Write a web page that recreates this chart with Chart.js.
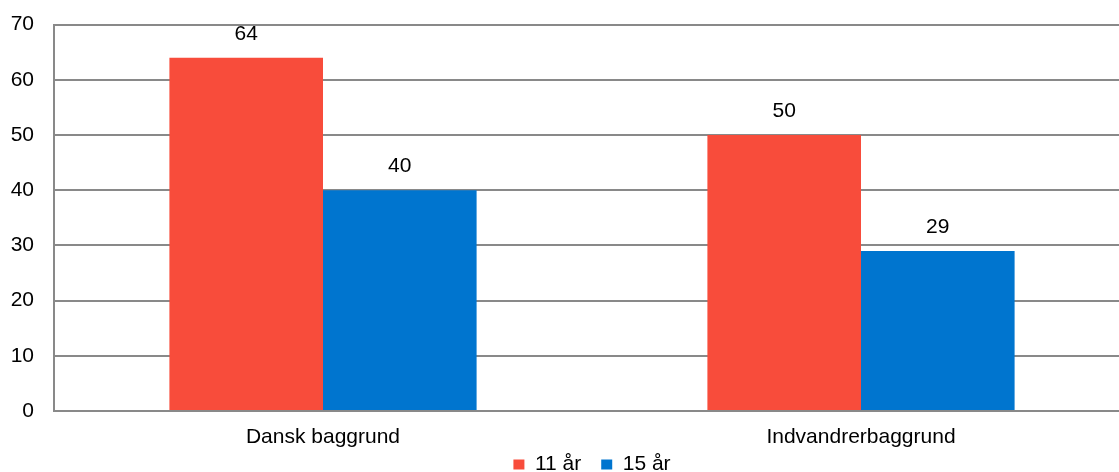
<!DOCTYPE html>
<html>
<head>
<meta charset="utf-8">
<script src="https://cdn.jsdelivr.net/npm/chart.js@4"></script>
<style>
html,body{margin:0;padding:0;background:#fff;overflow:hidden;}
#wrap{width:1130px;height:480px;position:absolute;left:0;top:-8px;}
</style>
</head>
<body>
<div id="wrap"><canvas id="c"></canvas></div>
<script>
const categories = ["Dansk baggrund", "Indvandrerbaggrund"];
const seriesNames = ["11 år", "15 år"];
const values11 = [64, 50];
const values15 = [40, 29];
const yTicks = [0, 10, 20, 30, 40, 50, 60, 70];

const FONT = "'Liberation Sans', Arial, sans-serif";
const FS = 21;

const labelPlugin = {
  id: 'barLabels',
  afterDatasetsDraw(chart) {
    const ctx = chart.ctx;
    ctx.save();
    ctx.font = FS + "px " + FONT;
    ctx.fillStyle = "#000";
    ctx.textAlign = "center";
    ctx.textBaseline = "middle";
    chart.data.datasets.forEach((ds, di) => {
      const meta = chart.getDatasetMeta(di);
      meta.data.forEach((bar, i) => {
        ctx.fillText(String(ds.data[i]), bar.x, bar.y - 24);
      });
    });
    ctx.restore();
  }
};

// centre the legend under the plot area and pull it up closer to the axis labels
const LEGEND_LIFT = 17;
const legendShift = {
  id: 'legendShift',
  afterLayout(chart) {
    const lg = chart.legend;
    if (!lg) return;
    const ca = chart.chartArea;
    const dx = (ca.left + ca.right) / 2 - (lg.left + lg.right) / 2;
    lg.left += dx; lg.right += dx;
    lg.top -= LEGEND_LIFT; lg.bottom -= LEGEND_LIFT;
    if (lg.legendHitBoxes) lg.legendHitBoxes.forEach(h => { h.left += dx; h.top -= LEGEND_LIFT; });
  }
};

new Chart(document.getElementById('c'), {
  type: 'bar',
  data: {
    labels: categories,
    datasets: [
      { label: seriesNames[0], data: values11, backgroundColor: '#F84C3B', borderWidth: 0 },
      { label: seriesNames[1], data: values15, backgroundColor: '#0075CF', borderWidth: 0 }
    ]
  },
  options: {
    responsive: true,
    maintainAspectRatio: false,
    animation: false,
    devicePixelRatio: 1,
    layout: { padding: { top: 0, right: 0, bottom: -30, left: 0 } },
    plugins: {
      legend: {
        position: 'bottom',
        labels: {
          font: { family: FONT, size: FS },
          color: '#000',
          boxWidth: 11,
          boxHeight: 10,
          padding: 20
        }
      },
      tooltip: { enabled: false }
    },
    datasets: {
      bar: { barPercentage: 1.0, categoryPercentage: 0.571 }
    },
    scales: {
      x: {
        afterFit(scale) { scale.height = 40; },
        grid: { display: false, drawTicks: false },
        border: { display: true, color: '#898989', width: 2 },
        ticks: { font: { family: FONT, size: FS }, color: '#000', padding: 14 }
      },
      y: {
        min: 0, max: 70,
        afterBuildTicks(scale) { scale.ticks = yTicks.map(v => ({ value: v })); },
        afterFit(scale) { scale.width = 54; },
        grid: { color: '#898989', lineWidth: 2, drawTicks: false },
        border: { display: true, color: '#898989', width: 2 },
        ticks: { font: { family: FONT, size: FS }, color: '#000', padding: 20 }
      }
    }
  },
  plugins: [labelPlugin, legendShift]
});
</script>
</body>
</html>
